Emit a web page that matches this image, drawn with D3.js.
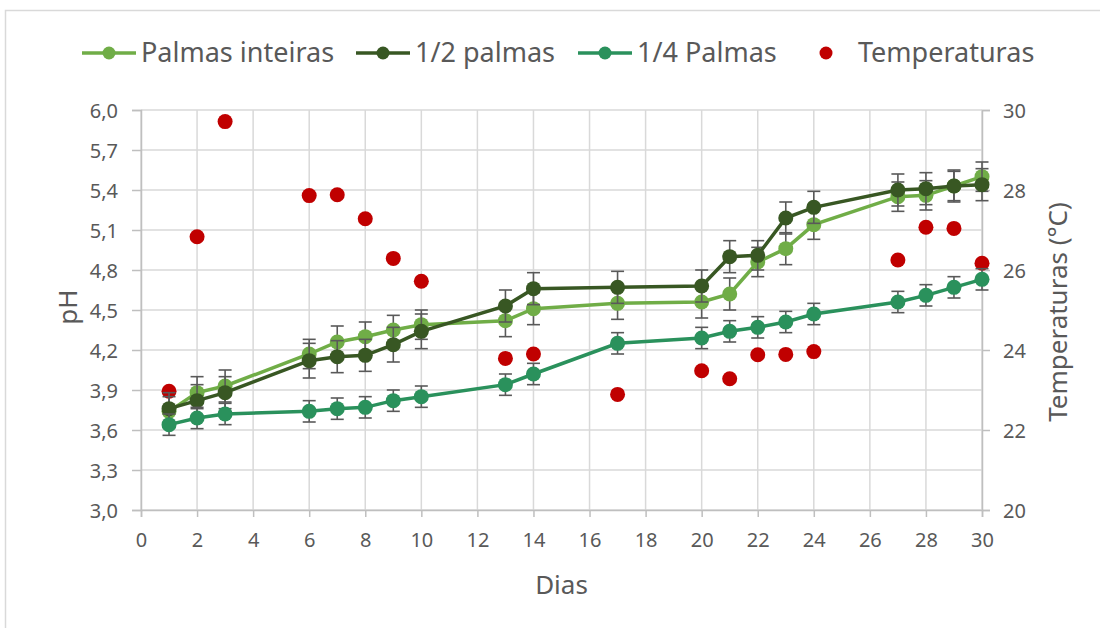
<!DOCTYPE html>
<html>
<head>
<meta charset="utf-8">
<script src="https://cdn.jsdelivr.net/npm/d3@7"></script>
<style>
  body { margin: 0; background: #fff; }
  svg text { font-family: "Noto Sans", "Open Sans", sans-serif; fill: #595959; }
</style>
</head>
<body>
<script>
// data
var dias = [1, 2, 3, 6, 7, 8, 9, 10, 13, 14, 17, 20, 21, 22, 23, 24, 27, 28, 29, 30];
var palmasInteiras = [3.74, 3.88, 3.93, 4.17, 4.26, 4.30, 4.35, 4.39, 4.42, 4.51, 4.55, 4.56, 4.62, 4.86, 4.96, 5.14, 5.35, 5.36, 5.43, 5.50];
var palmasInteirasErr = [0.11, 0.12, 0.12, 0.11, 0.12, 0.11, 0.11, 0.11, 0.12, 0.12, 0.12, 0.12, 0.12, 0.11, 0.12, 0.11, 0.11, 0.11, 0.11, 0.11];
var meiaPalmas = [3.76, 3.82, 3.88, 4.12, 4.15, 4.16, 4.24, 4.34, 4.53, 4.66, 4.67, 4.68, 4.90, 4.91, 5.19, 5.27, 5.40, 5.41, 5.43, 5.44];
var meiaPalmasErr = [0.12, 0.12, 0.12, 0.13, 0.12, 0.12, 0.13, 0.13, 0.12, 0.12, 0.12, 0.12, 0.12, 0.11, 0.12, 0.12, 0.12, 0.12, 0.12, 0.12];
var quartoPalmas = [3.64, 3.69, 3.72, 3.74, 3.76, 3.77, 3.82, 3.85, 3.94, 4.02, 4.25, 4.29, 4.34, 4.37, 4.41, 4.47, 4.56, 4.61, 4.67, 4.73];
var quartoPalmasErr = [0.08, 0.08, 0.08, 0.08, 0.08, 0.08, 0.08, 0.08, 0.08, 0.08, 0.08, 0.08, 0.08, 0.08, 0.08, 0.08, 0.08, 0.08, 0.08, 0.08];
var temperaturas = [22.97, 26.83, 29.71, 27.86, 27.88, 27.28, 26.29, 25.72, 23.79, 23.90, 22.89, 23.48, 23.28, 23.88, 23.89, 23.96, 26.25, 27.07, 27.04, 26.17];

var phTicks = [3.0, 3.3, 3.6, 3.9, 4.2, 4.5, 4.8, 5.1, 5.4, 5.7, 6.0];
var tempTicks = [20, 22, 24, 26, 28, 30];
var diaTicks = d3.range(0, 31, 2);

var series = [
  { name: 'Palmas inteiras', values: palmasInteiras, err: palmasInteirasErr, color: '#70AD47' },
  { name: '1/2 palmas', values: meiaPalmas, err: meiaPalmasErr, color: '#385723' },
  { name: '1/4 Palmas', values: quartoPalmas, err: quartoPalmasErr, color: '#2A915C' }
];
var tempColor = '#C00000';

var width = 1100;
var height = 628;
var margin = { left: 141, right: 118, top: 110, bottom: 118 };

var svg = d3.select('body')
  .append('svg')
    .attr('width', width)
    .attr('height', height);

// outer chart frame (cropped)
svg.append('rect')
  .attr('x', 5.5).attr('y', 10.5)
  .attr('width', width).attr('height', height)
  .attr('fill', 'none')
  .attr('stroke', '#d9d9d9')
  .attr('stroke-width', 1.5);

var x = d3.scaleLinear().domain([0, 30]).range([margin.left, width - margin.right]);
var y = d3.scaleLinear().domain([3, 6]).range([height - margin.bottom, margin.top]);
var y2 = d3.scaleLinear().domain([20, 30]).range([height - margin.bottom, margin.top]);

var fmt = function(d) { return d3.format('.1f')(d).replace('.', ','); };

// gridlines
var grid = svg.append('g').attr('stroke', '#d9d9d9').attr('stroke-width', 1.5);
grid.selectAll('.hg').data(phTicks).enter().append('line')
  .attr('x1', x(0)).attr('x2', x(30))
  .attr('y1', function(d) { return y(d); }).attr('y2', function(d) { return y(d); });
grid.selectAll('.vg').data(diaTicks).enter().append('line')
  .attr('y1', y(3)).attr('y2', y(6))
  .attr('x1', function(d) { return x(d); }).attr('x2', function(d) { return x(d); });

// axes
var leftAxis = svg.append('g')
  .attr('transform', 'translate(' + x(0) + ',0)')
  .call(d3.axisLeft(y).tickValues(phTicks).tickFormat(fmt).tickSize(9).tickPadding(14));
var rightAxis = svg.append('g')
  .attr('transform', 'translate(' + x(30) + ',0)')
  .call(d3.axisRight(y2).tickValues(tempTicks).tickSize(8).tickPadding(13));
var bottomAxis = svg.append('g')
  .attr('transform', 'translate(0,' + y(3) + ')')
  .call(d3.axisBottom(x).tickValues(diaTicks).tickSize(7).tickPadding(16));

[leftAxis, rightAxis, bottomAxis].forEach(function(a) {
  a.selectAll('path, line').attr('stroke', '#bfbfbf').attr('stroke-width', 1.5);
  a.selectAll('text').style('font-size', '20px').attr('fill', '#595959');
});
leftAxis.selectAll('text').attr('dy', '0.35em');
rightAxis.selectAll('text').attr('dy', '0.35em');

// axis titles
svg.append('text')
  .attr('x', (x(0) + x(30)) / 2).attr('y', 585)
  .attr('text-anchor', 'middle').attr('dy', '0.35em')
  .style('font-size', '26px')
  .text('Dias');
svg.append('text')
  .attr('transform', 'translate(68,' + (y(4.5) - 3) + ') rotate(-90)')
  .attr('text-anchor', 'middle').attr('dy', '0.35em')
  .style('font-size', '26px')
  .text('pH');
svg.append('text')
  .attr('transform', 'translate(1058,' + (y(4.5) + 2) + ') rotate(-90)')
  .attr('text-anchor', 'middle').attr('dy', '0.35em')
  .style('font-size', '26px')
  .text('Temperaturas (°C)');

// temperature points
svg.append('g').selectAll('circle')
  .data(temperaturas)
  .enter().append('circle')
    .attr('cx', function(d, i) { return x(dias[i]); })
    .attr('cy', function(d) { return y2(d); })
    .attr('r', 7.5)
    .attr('fill', tempColor);

// pH series with error bars
var line = d3.line()
  .x(function(d, i) { return x(dias[i]); })
  .y(function(d) { return y(d); });

series.forEach(function(s) {
  var g = svg.append('g');

  g.append('path')
    .datum(s.values)
    .attr('d', line)
    .attr('fill', 'none')
    .attr('stroke', s.color)
    .attr('stroke-width', 3.5);

  var eb = g.append('g').attr('stroke', '#595959').attr('stroke-width', 1.6);
  s.values.forEach(function(v, i) {
    var cx = x(dias[i]);
    var lo = y(v - s.err[i]);
    var hi = y(v + s.err[i]);
    eb.append('line').attr('x1', cx).attr('x2', cx).attr('y1', lo).attr('y2', hi);
    eb.append('line').attr('x1', cx - 6.5).attr('x2', cx + 6.5).attr('y1', lo).attr('y2', lo);
    eb.append('line').attr('x1', cx - 6.5).attr('x2', cx + 6.5).attr('y1', hi).attr('y2', hi);
  });

  g.selectAll('circle')
    .data(s.values)
    .enter().append('circle')
      .attr('cx', function(d, i) { return x(dias[i]); })
      .attr('cy', function(d) { return y(d); })
      .attr('r', 7.5)
      .attr('fill', s.color);
});

// legend
var legendItems = [
  { name: series[0].name, color: series[0].color, x: 82, line: true },
  { name: series[1].name, color: series[1].color, x: 356, line: true },
  { name: series[2].name, color: series[2].color, x: 578, line: true },
  { name: 'Temperaturas', color: tempColor, x: 800, line: false }
];
var legend = svg.append('g').attr('transform', 'translate(0,53)');
legendItems.forEach(function(it) {
  var g = legend.append('g').attr('transform', 'translate(' + it.x + ',0)');
  if (it.line) {
    g.append('line').attr('x1', 0).attr('x2', 54).attr('y1', 0).attr('y2', 0)
      .attr('stroke', it.color).attr('stroke-width', 3.5);
  }
  g.append('circle').attr('cx', it.line ? 27 : 26).attr('cy', 0).attr('r', 6.5).attr('fill', it.color);
  g.append('text')
    .attr('x', it.line ? 59 : 58).attr('y', 0).attr('dy', '0.35em')
    .style('font-size', '27px')
    .text(it.name);
});
</script>
</body>
</html>
